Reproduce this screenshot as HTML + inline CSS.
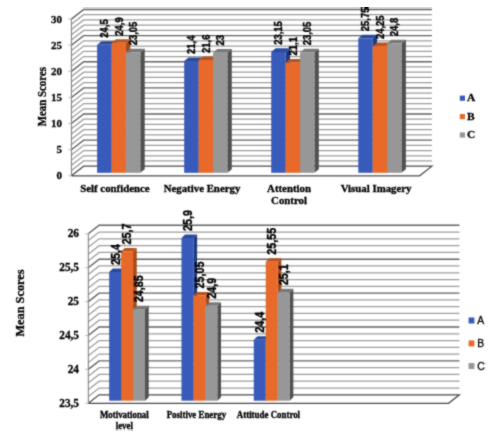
<!DOCTYPE html>
<html><head><meta charset="utf-8">
<style>
html,body{margin:0;padding:0;background:#fff;}
body{width:500px;height:439px;overflow:hidden;}
svg{display:block;}
text{fill:#000;stroke:#000;stroke-width:0.3px;}
.tl1{font-family:"Liberation Serif",serif;font-weight:700;font-size:11px;}
.tl2{font-family:"Liberation Serif",serif;font-weight:700;font-size:11.3px;}
.dl1{font-family:"Liberation Sans",sans-serif;font-weight:700;font-size:9.45px;stroke:#000;stroke-width:0.35px;}
.dl2{font-family:"Liberation Sans",sans-serif;font-weight:700;font-size:10.8px;stroke:#000;stroke-width:0.35px;}
.cat1{font-family:"Liberation Serif",serif;font-weight:700;font-size:10.85px;}
.cat2{font-family:"Liberation Serif",serif;font-weight:700;font-size:8.9px;}
.yt1{font-family:"Liberation Serif",serif;font-weight:700;font-size:10.9px;}
.yt2{font-family:"Liberation Serif",serif;font-weight:700;font-size:12.3px;}
.lg1{font-family:"Liberation Serif",serif;font-weight:700;font-size:11.4px;}
.lg2{font-family:"Liberation Sans",sans-serif;font-weight:400;font-size:10.3px;}
</style></head><body>
<svg width="500" height="439" viewBox="0 0 500 439">
<defs><filter id="bl" x="0" y="0" width="100%" height="100%" color-interpolation-filters="sRGB"><feConvolveMatrix order="3" kernelMatrix="1 2 1 2 12 2 1 2 1" divisor="24" edgeMode="duplicate"/></filter></defs>
<rect width="500" height="439" fill="#fff"/>
<g filter="url(#bl)">
<g>
<polyline points="71.40,170.58 83.70,160.98 431.90,160.98" fill="none" stroke="#9c9c9c" stroke-width="1.25"/>
<polyline points="71.40,165.35 83.70,155.75 431.90,155.75" fill="none" stroke="#9c9c9c" stroke-width="1.25"/>
<polyline points="71.40,160.13 83.70,150.53 431.90,150.53" fill="none" stroke="#9c9c9c" stroke-width="1.25"/>
<polyline points="71.40,154.91 83.70,145.31 431.90,145.31" fill="none" stroke="#9c9c9c" stroke-width="1.25"/>
<polyline points="71.40,149.69 83.70,140.09 431.90,140.09" fill="none" stroke="#626262" stroke-width="1.4"/>
<polyline points="71.40,144.46 83.70,134.86 431.90,134.86" fill="none" stroke="#9c9c9c" stroke-width="1.25"/>
<polyline points="71.40,139.24 83.70,129.64 431.90,129.64" fill="none" stroke="#9c9c9c" stroke-width="1.25"/>
<polyline points="71.40,134.02 83.70,124.42 431.90,124.42" fill="none" stroke="#9c9c9c" stroke-width="1.25"/>
<polyline points="71.40,128.79 83.70,119.19 431.90,119.19" fill="none" stroke="#9c9c9c" stroke-width="1.25"/>
<polyline points="71.40,123.57 83.70,113.97 431.90,113.97" fill="none" stroke="#626262" stroke-width="1.4"/>
<polyline points="71.40,118.35 83.70,108.75 431.90,108.75" fill="none" stroke="#9c9c9c" stroke-width="1.25"/>
<polyline points="71.40,113.12 83.70,103.52 431.90,103.52" fill="none" stroke="#9c9c9c" stroke-width="1.25"/>
<polyline points="71.40,107.90 83.70,98.30 431.90,98.30" fill="none" stroke="#9c9c9c" stroke-width="1.25"/>
<polyline points="71.40,102.68 83.70,93.08 431.90,93.08" fill="none" stroke="#9c9c9c" stroke-width="1.25"/>
<polyline points="71.40,97.46 83.70,87.86 431.90,87.86" fill="none" stroke="#626262" stroke-width="1.4"/>
<polyline points="71.40,92.23 83.70,82.63 431.90,82.63" fill="none" stroke="#9c9c9c" stroke-width="1.25"/>
<polyline points="71.40,87.01 83.70,77.41 431.90,77.41" fill="none" stroke="#9c9c9c" stroke-width="1.25"/>
<polyline points="71.40,81.79 83.70,72.19 431.90,72.19" fill="none" stroke="#9c9c9c" stroke-width="1.25"/>
<polyline points="71.40,76.56 83.70,66.96 431.90,66.96" fill="none" stroke="#9c9c9c" stroke-width="1.25"/>
<polyline points="71.40,71.34 83.70,61.74 431.90,61.74" fill="none" stroke="#626262" stroke-width="1.4"/>
<polyline points="71.40,66.12 83.70,56.52 431.90,56.52" fill="none" stroke="#9c9c9c" stroke-width="1.25"/>
<polyline points="71.40,60.89 83.70,51.29 431.90,51.29" fill="none" stroke="#9c9c9c" stroke-width="1.25"/>
<polyline points="71.40,55.67 83.70,46.07 431.90,46.07" fill="none" stroke="#9c9c9c" stroke-width="1.25"/>
<polyline points="71.40,50.45 83.70,40.85 431.90,40.85" fill="none" stroke="#9c9c9c" stroke-width="1.25"/>
<polyline points="71.40,45.23 83.70,35.63 431.90,35.63" fill="none" stroke="#626262" stroke-width="1.4"/>
<polyline points="71.40,40.00 83.70,30.40 431.90,30.40" fill="none" stroke="#9c9c9c" stroke-width="1.25"/>
<polyline points="71.40,34.78 83.70,25.18 431.90,25.18" fill="none" stroke="#9c9c9c" stroke-width="1.25"/>
<polyline points="71.40,29.56 83.70,19.96 431.90,19.96" fill="none" stroke="#9c9c9c" stroke-width="1.25"/>
<polyline points="71.40,24.33 83.70,14.73 431.90,14.73" fill="none" stroke="#9c9c9c" stroke-width="1.25"/>
<polyline points="71.40,19.11 83.70,9.51 431.90,9.51" fill="none" stroke="#626262" stroke-width="1.4"/>
<polyline points="71.40,175.80 83.70,166.20 431.90,166.20 419.60,175.80 71.40,175.80" fill="none" stroke="#4a4a4a" stroke-width="1.2"/>
<line x1="71.40" y1="175.80" x2="71.40" y2="19.11" stroke="#777777" stroke-width="1"/>
<line x1="68.40" y1="175.80" x2="71.40" y2="175.80" stroke="#b4b4b4" stroke-width="1"/>
<text transform="translate(62.00,179.30) scale(1,1.03)" text-anchor="end" class="tl1">0</text>
<line x1="68.40" y1="149.69" x2="71.40" y2="149.69" stroke="#b4b4b4" stroke-width="1"/>
<text transform="translate(62.00,153.19) scale(1,1.03)" text-anchor="end" class="tl1">5</text>
<line x1="68.40" y1="123.57" x2="71.40" y2="123.57" stroke="#b4b4b4" stroke-width="1"/>
<text transform="translate(62.00,127.07) scale(1,1.03)" text-anchor="end" class="tl1">10</text>
<line x1="68.40" y1="97.46" x2="71.40" y2="97.46" stroke="#b4b4b4" stroke-width="1"/>
<text transform="translate(62.00,100.96) scale(1,1.03)" text-anchor="end" class="tl1">15</text>
<line x1="68.40" y1="71.34" x2="71.40" y2="71.34" stroke="#b4b4b4" stroke-width="1"/>
<text transform="translate(62.00,74.84) scale(1,1.03)" text-anchor="end" class="tl1">20</text>
<line x1="68.40" y1="45.23" x2="71.40" y2="45.23" stroke="#b4b4b4" stroke-width="1"/>
<text transform="translate(62.00,48.73) scale(1,1.03)" text-anchor="end" class="tl1">25</text>
<line x1="68.40" y1="19.11" x2="71.40" y2="19.11" stroke="#b4b4b4" stroke-width="1"/>
<text transform="translate(62.00,22.61) scale(1,1.03)" text-anchor="end" class="tl1">30</text>
<polygon points="111.53,44.84 115.93,41.24 115.93,169.20 111.53,172.80" fill="#1f3a80"/>
<polygon points="97.12,44.84 101.53,41.24 115.93,41.24 111.53,44.84" fill="#2a489c"/>
<rect x="97.12" y="44.84" width="14.40" height="127.96" fill="#375abb"/>
<polygon points="125.93,42.75 130.33,39.15 130.33,169.20 125.93,172.80" fill="#a84a18"/>
<polygon points="111.53,42.75 115.93,39.15 130.33,39.15 125.93,42.75" fill="#b8531d"/>
<rect x="111.53" y="42.75" width="14.40" height="130.05" fill="#e8692a"/>
<polygon points="140.32,52.41 144.72,48.81 144.72,169.20 140.32,172.80" fill="#505050"/>
<polygon points="125.92,52.41 130.32,48.81 144.72,48.81 140.32,52.41" fill="#787878"/>
<rect x="125.92" y="52.41" width="14.40" height="120.39" fill="#979797"/>
<polygon points="198.58,61.03 202.98,57.43 202.98,169.20 198.58,172.80" fill="#1f3a80"/>
<polygon points="184.18,61.03 188.58,57.43 202.98,57.43 198.58,61.03" fill="#2a489c"/>
<rect x="184.18" y="61.03" width="14.40" height="111.77" fill="#375abb"/>
<polygon points="212.98,59.98 217.38,56.38 217.38,169.20 212.98,172.80" fill="#a84a18"/>
<polygon points="198.58,59.98 202.98,56.38 217.38,56.38 212.98,59.98" fill="#b8531d"/>
<rect x="198.58" y="59.98" width="14.40" height="112.82" fill="#e8692a"/>
<polygon points="227.38,52.67 231.78,49.07 231.78,169.20 227.38,172.80" fill="#505050"/>
<polygon points="212.98,52.67 217.38,49.07 231.78,49.07 227.38,52.67" fill="#787878"/>
<rect x="212.98" y="52.67" width="14.40" height="120.13" fill="#979797"/>
<polygon points="285.62,51.89 290.02,48.29 290.02,169.20 285.62,172.80" fill="#1f3a80"/>
<polygon points="271.23,51.89 275.62,48.29 290.02,48.29 285.62,51.89" fill="#2a489c"/>
<rect x="271.23" y="51.89" width="14.40" height="120.91" fill="#375abb"/>
<polygon points="300.02,62.59 304.42,58.99 304.42,169.20 300.02,172.80" fill="#a84a18"/>
<polygon points="285.62,62.59 290.02,58.99 304.42,58.99 300.02,62.59" fill="#b8531d"/>
<rect x="285.62" y="62.59" width="14.40" height="110.21" fill="#e8692a"/>
<polygon points="314.43,52.41 318.82,48.81 318.82,169.20 314.43,172.80" fill="#505050"/>
<polygon points="300.03,52.41 304.43,48.81 318.82,48.81 314.43,52.41" fill="#787878"/>
<rect x="300.03" y="52.41" width="14.40" height="120.39" fill="#979797"/>
<polygon points="372.68,38.31 377.07,34.71 377.07,169.20 372.68,172.80" fill="#1f3a80"/>
<polygon points="358.28,38.31 362.68,34.71 377.07,34.71 372.68,38.31" fill="#2a489c"/>
<rect x="358.28" y="38.31" width="14.40" height="134.49" fill="#375abb"/>
<polygon points="387.07,46.14 391.47,42.54 391.47,169.20 387.07,172.80" fill="#a84a18"/>
<polygon points="372.68,46.14 377.07,42.54 391.47,42.54 387.07,46.14" fill="#b8531d"/>
<rect x="372.68" y="46.14" width="14.40" height="126.66" fill="#e8692a"/>
<polygon points="401.48,43.27 405.88,39.67 405.88,169.20 401.48,172.80" fill="#505050"/>
<polygon points="387.08,43.27 391.48,39.67 405.88,39.67 401.48,43.27" fill="#787878"/>
<rect x="387.08" y="43.27" width="14.40" height="129.53" fill="#979797"/>
<text transform="translate(104.33,37.74) rotate(-90) scale(1.0,1.15)" x="0" y="0" dy="3.4" class="dl1">24,5</text>
<text transform="translate(118.72,35.65) rotate(-90) scale(1.0,1.15)" x="0" y="0" dy="3.4" class="dl1">24,9</text>
<text transform="translate(133.12,45.31) rotate(-90) scale(1.0,1.15)" x="0" y="0" dy="3.4" class="dl1">23,05</text>
<text transform="translate(191.38,53.93) rotate(-90) scale(1.0,1.15)" x="0" y="0" dy="3.4" class="dl1">21,4</text>
<text transform="translate(205.78,52.88) rotate(-90) scale(1.0,1.15)" x="0" y="0" dy="3.4" class="dl1">21,6</text>
<text transform="translate(220.18,45.57) rotate(-90) scale(1.0,1.15)" x="0" y="0" dy="3.4" class="dl1">23</text>
<text transform="translate(278.43,44.79) rotate(-90) scale(1.0,1.15)" x="0" y="0" dy="3.4" class="dl1">23,15</text>
<text transform="translate(292.83,55.49) rotate(-90) scale(1.0,1.15)" x="0" y="0" dy="3.4" class="dl1">21,1</text>
<text transform="translate(307.23,45.31) rotate(-90) scale(1.0,1.15)" x="0" y="0" dy="3.4" class="dl1">23,05</text>
<text transform="translate(365.48,31.21) rotate(-90) scale(1.0,1.15)" x="0" y="0" dy="3.4" class="dl1">25,75</text>
<text transform="translate(379.88,39.04) rotate(-90) scale(1.0,1.15)" x="0" y="0" dy="3.4" class="dl1">24,25</text>
<text transform="translate(394.28,36.17) rotate(-90) scale(1.0,1.15)" x="0" y="0" dy="3.4" class="dl1">24,8</text>
<text transform="translate(114.93,192.00) scale(1,1.04)" text-anchor="middle" class="cat1">Self confidence</text>
<text transform="translate(201.98,192.00) scale(1,1.04)" text-anchor="middle" class="cat1">Negative Energy</text>
<text transform="translate(289.03,192.00) scale(1,1.04)" text-anchor="middle" class="cat1">Attention</text>
<text transform="translate(289.03,204.20) scale(1,1.04)" text-anchor="middle" class="cat1">Control</text>
<text transform="translate(376.08,192.00) scale(1,1.04)" text-anchor="middle" class="cat1">Visual Imagery</text>
</g>
<text transform="translate(45.6,96.7) rotate(-90) scale(1,1.06)" text-anchor="middle" class="yt1">Mean Scores</text>
<rect x="459.8" y="95.60" width="5.2" height="5.2" fill="#375abb"/><text x="467" y="101.10" class="lg1">A</text><rect x="459.8" y="114.00" width="5.2" height="5.2" fill="#e8692a"/><text x="467" y="119.50" class="lg1">B</text><rect x="459.8" y="132.40" width="5.2" height="5.2" fill="#979797"/><text x="467" y="137.90" class="lg1">C</text>
<g>
<polyline points="88.30,396.52 99.10,388.02 459.40,388.02" fill="none" stroke="#9c9c9c" stroke-width="1.25"/>
<polyline points="88.30,389.74 99.10,381.24 459.40,381.24" fill="none" stroke="#9c9c9c" stroke-width="1.25"/>
<polyline points="88.30,382.96 99.10,374.46 459.40,374.46" fill="none" stroke="#9c9c9c" stroke-width="1.25"/>
<polyline points="88.30,376.18 99.10,367.68 459.40,367.68" fill="none" stroke="#9c9c9c" stroke-width="1.25"/>
<polyline points="88.30,369.40 99.10,360.90 459.40,360.90" fill="none" stroke="#626262" stroke-width="1.4"/>
<polyline points="88.30,362.62 99.10,354.12 459.40,354.12" fill="none" stroke="#9c9c9c" stroke-width="1.25"/>
<polyline points="88.30,355.84 99.10,347.34 459.40,347.34" fill="none" stroke="#9c9c9c" stroke-width="1.25"/>
<polyline points="88.30,349.06 99.10,340.56 459.40,340.56" fill="none" stroke="#9c9c9c" stroke-width="1.25"/>
<polyline points="88.30,342.28 99.10,333.78 459.40,333.78" fill="none" stroke="#9c9c9c" stroke-width="1.25"/>
<polyline points="88.30,335.50 99.10,327.00 459.40,327.00" fill="none" stroke="#626262" stroke-width="1.4"/>
<polyline points="88.30,328.72 99.10,320.22 459.40,320.22" fill="none" stroke="#9c9c9c" stroke-width="1.25"/>
<polyline points="88.30,321.94 99.10,313.44 459.40,313.44" fill="none" stroke="#9c9c9c" stroke-width="1.25"/>
<polyline points="88.30,315.16 99.10,306.66 459.40,306.66" fill="none" stroke="#9c9c9c" stroke-width="1.25"/>
<polyline points="88.30,308.38 99.10,299.88 459.40,299.88" fill="none" stroke="#9c9c9c" stroke-width="1.25"/>
<polyline points="88.30,301.60 99.10,293.10 459.40,293.10" fill="none" stroke="#626262" stroke-width="1.4"/>
<polyline points="88.30,294.82 99.10,286.32 459.40,286.32" fill="none" stroke="#9c9c9c" stroke-width="1.25"/>
<polyline points="88.30,288.04 99.10,279.54 459.40,279.54" fill="none" stroke="#9c9c9c" stroke-width="1.25"/>
<polyline points="88.30,281.26 99.10,272.76 459.40,272.76" fill="none" stroke="#9c9c9c" stroke-width="1.25"/>
<polyline points="88.30,274.48 99.10,265.98 459.40,265.98" fill="none" stroke="#9c9c9c" stroke-width="1.25"/>
<polyline points="88.30,267.70 99.10,259.20 459.40,259.20" fill="none" stroke="#626262" stroke-width="1.4"/>
<polyline points="88.30,260.92 99.10,252.42 459.40,252.42" fill="none" stroke="#9c9c9c" stroke-width="1.25"/>
<polyline points="88.30,254.14 99.10,245.64 459.40,245.64" fill="none" stroke="#9c9c9c" stroke-width="1.25"/>
<polyline points="88.30,247.36 99.10,238.86 459.40,238.86" fill="none" stroke="#9c9c9c" stroke-width="1.25"/>
<polyline points="88.30,240.58 99.10,232.08 459.40,232.08" fill="none" stroke="#9c9c9c" stroke-width="1.25"/>
<polyline points="88.30,233.80 99.10,225.30 459.40,225.30" fill="none" stroke="#626262" stroke-width="1.4"/>
<polyline points="88.30,403.30 99.10,394.80 459.40,394.80 448.60,403.30 88.30,403.30" fill="none" stroke="#4a4a4a" stroke-width="1.2"/>
<line x1="88.30" y1="403.30" x2="88.30" y2="233.80" stroke="#777777" stroke-width="1"/>
<line x1="85.30" y1="403.30" x2="88.30" y2="403.30" stroke="#b4b4b4" stroke-width="1"/>
<text transform="translate(79.00,406.60) scale(1,1.12)" text-anchor="end" class="tl2">23,5</text>
<line x1="85.30" y1="369.40" x2="88.30" y2="369.40" stroke="#b4b4b4" stroke-width="1"/>
<text transform="translate(79.00,372.70) scale(1,1.12)" text-anchor="end" class="tl2">24</text>
<line x1="85.30" y1="335.50" x2="88.30" y2="335.50" stroke="#b4b4b4" stroke-width="1"/>
<text transform="translate(79.00,338.80) scale(1,1.12)" text-anchor="end" class="tl2">24,5</text>
<line x1="85.30" y1="301.60" x2="88.30" y2="301.60" stroke="#b4b4b4" stroke-width="1"/>
<text transform="translate(79.00,304.90) scale(1,1.12)" text-anchor="end" class="tl2">25</text>
<line x1="85.30" y1="267.70" x2="88.30" y2="267.70" stroke="#b4b4b4" stroke-width="1"/>
<text transform="translate(79.00,271.00) scale(1,1.12)" text-anchor="end" class="tl2">25,5</text>
<line x1="85.30" y1="233.80" x2="88.30" y2="233.80" stroke="#b4b4b4" stroke-width="1"/>
<text transform="translate(79.00,237.10) scale(1,1.12)" text-anchor="end" class="tl2">26</text>
<polygon points="121.12,271.88 124.82,268.38 124.82,397.20 121.12,400.70" fill="#1f3a80"/>
<polygon points="109.17,271.88 112.87,268.38 124.82,268.38 121.12,271.88" fill="#2a489c"/>
<rect x="109.17" y="271.88" width="11.95" height="128.82" fill="#375abb"/>
<polygon points="133.07,251.54 136.77,248.04 136.77,397.20 133.07,400.70" fill="#a84a18"/>
<polygon points="121.12,251.54 124.82,248.04 136.77,248.04 133.07,251.54" fill="#b8531d"/>
<rect x="121.12" y="251.54" width="11.95" height="149.16" fill="#e8692a"/>
<polygon points="145.02,309.17 148.72,305.67 148.72,397.20 145.02,400.70" fill="#505050"/>
<polygon points="133.07,309.17 136.77,305.67 148.72,305.67 145.02,309.17" fill="#787878"/>
<rect x="133.07" y="309.17" width="11.95" height="91.53" fill="#979797"/>
<polygon points="193.43,237.98 197.12,234.48 197.12,397.20 193.43,400.70" fill="#1f3a80"/>
<polygon points="181.48,237.98 185.18,234.48 197.12,234.48 193.43,237.98" fill="#2a489c"/>
<rect x="181.48" y="237.98" width="11.95" height="162.72" fill="#375abb"/>
<polygon points="205.38,295.61 209.07,292.11 209.07,397.20 205.38,400.70" fill="#a84a18"/>
<polygon points="193.43,295.61 197.12,292.11 209.07,292.11 205.38,295.61" fill="#b8531d"/>
<rect x="193.43" y="295.61" width="11.95" height="105.09" fill="#e8692a"/>
<polygon points="217.33,305.78 221.03,302.28 221.03,397.20 217.33,400.70" fill="#505050"/>
<polygon points="205.38,305.78 209.08,302.28 221.03,302.28 217.33,305.78" fill="#787878"/>
<rect x="205.38" y="305.78" width="11.95" height="94.92" fill="#979797"/>
<polygon points="265.73,339.68 269.43,336.18 269.43,397.20 265.73,400.70" fill="#1f3a80"/>
<polygon points="253.78,339.68 257.48,336.18 269.43,336.18 265.73,339.68" fill="#2a489c"/>
<rect x="253.78" y="339.68" width="11.95" height="61.02" fill="#375abb"/>
<polygon points="277.68,261.71 281.38,258.21 281.38,397.20 277.68,400.70" fill="#a84a18"/>
<polygon points="265.73,261.71 269.43,258.21 281.38,258.21 277.68,261.71" fill="#b8531d"/>
<rect x="265.73" y="261.71" width="11.95" height="138.99" fill="#e8692a"/>
<polygon points="289.62,292.22 293.32,288.72 293.32,397.20 289.62,400.70" fill="#505050"/>
<polygon points="277.68,292.22 281.38,288.72 293.32,288.72 289.62,292.22" fill="#787878"/>
<rect x="277.68" y="292.22" width="11.95" height="108.48" fill="#979797"/>
<text transform="translate(115.15,264.88) rotate(-90) scale(1.0,1.15)" x="0" y="0" dy="3.8" class="dl2">25,4</text>
<text transform="translate(127.10,244.54) rotate(-90) scale(1.0,1.15)" x="0" y="0" dy="3.8" class="dl2">25,7</text>
<text transform="translate(139.05,302.17) rotate(-90) scale(1.0,1.15)" x="0" y="0" dy="3.8" class="dl2">24,85</text>
<text transform="translate(187.45,230.98) rotate(-90) scale(1.0,1.15)" x="0" y="0" dy="3.8" class="dl2">25,9</text>
<text transform="translate(199.40,288.61) rotate(-90) scale(1.0,1.15)" x="0" y="0" dy="3.8" class="dl2">25,05</text>
<text transform="translate(211.35,298.78) rotate(-90) scale(1.0,1.15)" x="0" y="0" dy="3.8" class="dl2">24,9</text>
<text transform="translate(259.75,332.68) rotate(-90) scale(1.0,1.15)" x="0" y="0" dy="3.8" class="dl2">24,4</text>
<text transform="translate(271.70,254.71) rotate(-90) scale(1.0,1.15)" x="0" y="0" dy="3.8" class="dl2">25,55</text>
<text transform="translate(283.65,285.22) rotate(-90) scale(1.0,1.15)" x="0" y="0" dy="3.8" class="dl2">25,1</text>
<text transform="translate(124.33,418.30) scale(1,1.1)" text-anchor="middle" class="cat2">Motivational</text>
<text transform="translate(124.33,428.90) scale(1,1.1)" text-anchor="middle" class="cat2">level</text>
<text transform="translate(196.39,418.30) scale(1,1.1)" text-anchor="middle" class="cat2">Positive Energy</text>
<text transform="translate(268.45,418.30) scale(1,1.1)" text-anchor="middle" class="cat2">Attitude Control</text>
</g>
<text transform="translate(23.8,303) rotate(-90) scale(1,1.04)" text-anchor="middle" class="yt2">Mean Scores</text>
<rect x="468.6" y="317.50" width="5.8" height="6" fill="#375abb"/><text x="477.3" y="324.10" class="lg2">A</text><rect x="468.6" y="340.40" width="5.8" height="6" fill="#e8692a"/><text x="477.3" y="347.00" class="lg2">B</text><rect x="468.6" y="363.00" width="5.8" height="6" fill="#979797"/><text x="477.3" y="369.60" class="lg2">C</text>
</g>
</svg>
</body></html>
